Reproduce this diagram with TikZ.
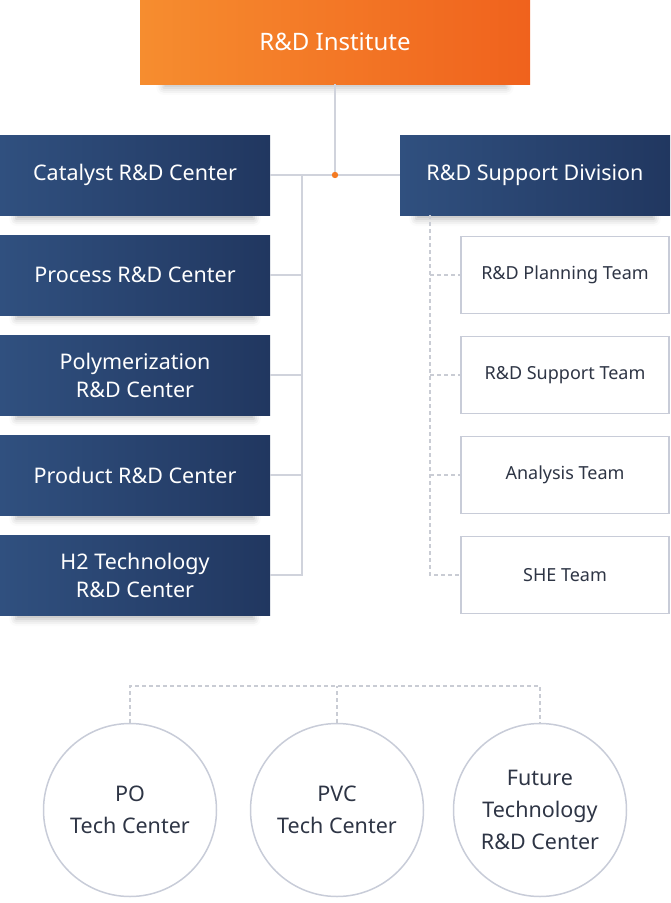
\documentclass[tikz,border=0pt]{standalone}
\usepackage{fontspec}
\setmainfont{Noto Sans}
\usetikzlibrary{shadows.blur,positioning}
\definecolor{orangeL}{HTML}{F68D2F}
\definecolor{orangeR}{HTML}{F0621D}
\definecolor{navyL}{HTML}{30507F}
\definecolor{navyR}{HTML}{213760}
\definecolor{lineG}{HTML}{D0D3DC}
\definecolor{dashG}{HTML}{C9CCD4}
\definecolor{boxB}{HTML}{C8CCD8}
\definecolor{txtD}{HTML}{2E3545}
\definecolor{dotO}{HTML}{F47A22}
\tikzset{
  x=1pt,y=-1pt,
  topbox/.style={minimum width=390pt,minimum height=84pt,inner sep=0pt,
    left color=orangeL,right color=orangeR,text=white,
    font=\fontsize{24}{28}\selectfont,
    blur shadow={shadow xshift=0pt,shadow yshift=-10pt,shadow blur radius=8pt,shadow opacity=25,shadow scale=0.88}},
  centerbox/.style={minimum width=270pt,minimum height=80pt,inner sep=0pt,
    left color=navyL,right color=navyR,text=white,align=center,
    font=\fontsize{21.5}{28}\selectfont,
    blur shadow={shadow xshift=0pt,shadow yshift=-10pt,shadow blur radius=8pt,shadow opacity=28,shadow scale=0.88}},
  teambox/.style={draw=boxB,line width=1.5pt,fill=white,minimum width=208pt,minimum height=77pt,inner sep=0pt,
    text=txtD,font=\fontsize{18}{22}\selectfont},
  techcircle/.style={circle,draw=boxB,line width=1.5pt,minimum size=173pt,inner sep=0pt,align=center,
    text=txtD,font=\fontsize{21.5}{32}\selectfont},
  solidline/.style={draw=lineG,line width=1.8pt},
  dashline/.style={draw=dashG,line width=1.5pt,dash pattern=on 4pt off 3pt}
}
\begin{document}
\begin{tikzpicture}
\useasboundingbox (0,0) rectangle (670,903);
% top
\node[topbox] (inst) at (335,42) {R\&D Institute};
% left centers
\node[centerbox] (c1) at (135,175) {Catalyst R\&D Center};
\node[centerbox] (c2) at (135,275) {Process R\&D Center};
\node[centerbox] (c3) at (135,375) {Polymerization\\R\&D Center};
\node[centerbox] (c4) at (135,475) {Product R\&D Center};
\node[centerbox] (c5) at (135,575) {H2 Technology\\R\&D Center};
% support division
\node[centerbox] (sup) at (535,175) {R\&D Support Division};
% teams
\node[teambox] (t1) at (565,275) {R\&D Planning Team};
\node[teambox] (t2) at (565,375) {R\&D Support Team};
\node[teambox] (t3) at (565,475) {Analysis Team};
\node[teambox] (t4) at (565,575) {SHE Team};
% solid connectors
\coordinate (hub) at (335,175);
\coordinate (spine) at (302,175);
\draw[solidline] (inst.south) -- (hub);
\draw[solidline] (c1.east) -- (sup.west);
\draw[solidline] (spine) |- (c5.east);
\foreach \n in {c2,c3,c4} \draw[solidline] (\n.east) -- (\n.east -| spine);
\fill[dotO] (hub) circle (3.2pt);
% dashed connectors to teams
\coordinate (dspine) at (430,215);
\draw[dashline] (dspine) |- (t4.west);
\foreach \n in {t1,t2,t3} \draw[dashline] (\n.west -| dspine) -- (\n.west);
% circles
\node[techcircle] (p1) at (130,810) {PO\\Tech Center};
\node[techcircle] (p2) at (337,810) {PVC\\Tech Center};
\node[techcircle] (p3) at (540,810) {\raisebox{-3pt}{\parbox{150pt}{\centering Future\\Technology\\R\&D Center}}};
\coordinate (bl) at (130,686);
\coordinate (br) at (540,686);
\draw[dashline] (p1.north) -- (bl) -- (br) -- (p3.north);
\draw[dashline] (p2.north) -- (p2.north |- bl);
\end{tikzpicture}
\end{document}
